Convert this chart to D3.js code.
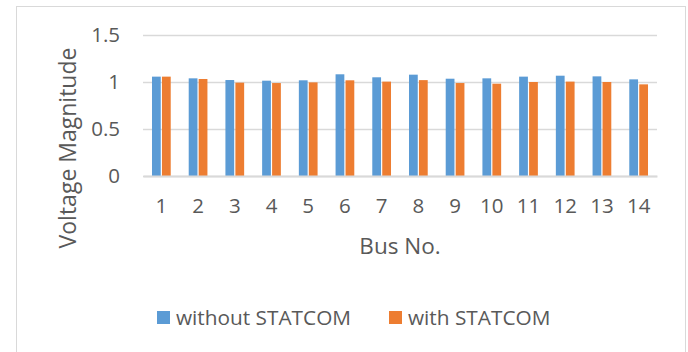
<!DOCTYPE html>
<html><head><meta charset="utf-8">
<script src="https://cdn.jsdelivr.net/npm/d3@7"></script>
<style>
html,body{margin:0;padding:0;background:#fff;}
svg{display:block;}
text{font-family:"Open Sans",sans-serif;fill:#595959;}
</style></head>
<body>
<svg id="chart" width="688" height="352"></svg>
<script>
const buses = ["1","2","3","4","5","6","7","8","9","10","11","12","13","14"];
const withoutStatcom = [1.057,1.039,1.021,1.014,1.018,1.082,1.050,1.078,1.035,1.039,1.057,1.067,1.060,1.028];
const withStatcom = [1.057,1.032,0.993,0.989,0.996,1.018,1.004,1.020,0.989,0.982,1.000,1.004,1.000,0.975];
const seriesNames = ["without STATCOM","with STATCOM"];
const seriesColors = ["#5B9BD5","#ED7D31"];
const yTicks = [0,0.5,1,1.5];

const svg = d3.select("#chart");
// chart frame
svg.append("rect").attr("x",16.5).attr("y",6.5).attr("width",669).attr("height",360)
  .attr("fill","#fff").attr("stroke","#d9d9d9").attr("stroke-width",1);

const plot = {left:143, right:657, top:35, bottom:176};
const x = d3.scaleBand().domain(buses).range([plot.left,plot.right]).paddingInner(0.49).paddingOuter(0.245);
const xs = d3.scaleBand().domain(seriesNames).range([0,x.bandwidth()]).paddingInner(0.12);
const y = d3.scaleLinear().domain([0,1.5]).range([plot.bottom,plot.top]);

// gridlines
const yAxis = d3.axisLeft(y).tickValues(yTicks).tickFormat(d3.format("")).tickSize(-(plot.right-plot.left)).tickPadding(23);
const gy = svg.append("g").attr("transform",`translate(${plot.left},0)`).call(yAxis);
gy.select(".domain").remove();
gy.selectAll(".tick line").attr("stroke","#d9d9d9").attr("stroke-width",1.3);
gy.selectAll(".tick text").style("font-size","20.5px").attr("fill","#595959");

// bars
const data = buses.map((b,i)=>({bus:b, vals:[withoutStatcom[i],withStatcom[i]]}));
const groups = svg.append("g").selectAll("g").data(data).join("g")
  .attr("transform",d=>`translate(${x(d.bus)},0)`);
groups.selectAll("rect").data(d=>d.vals.map((v,k)=>({v,k}))).join("rect")
  .attr("x",d=>xs(seriesNames[d.k]))
  .attr("width",xs.bandwidth())
  .attr("y",d=>y(d.v))
  .attr("height",d=>y(0)-y(d.v))
  .attr("fill",d=>seriesColors[d.k]);

// x axis
const xAxis = d3.axisBottom(x).tickSize(0).tickPadding(22);
const gx = svg.append("g").attr("transform",`translate(0,${plot.bottom})`).call(xAxis);
gx.select(".domain").attr("stroke","#d9d9d9").attr("stroke-width",2);
gx.selectAll(".tick text").style("font-size","20.5px").attr("fill","#595959");

// axis titles
svg.append("text").attr("x",(plot.left+plot.right)/2).attr("y",254)
  .attr("text-anchor","middle").style("font-size","22.5px").text("Bus No.");
svg.append("text").attr("transform",`translate(76,148) rotate(-90)`)
  .attr("text-anchor","middle").style("font-size","23px").text("Voltage Magnitude");

// legend
const legendX = [157,389];
const lg = svg.append("g").selectAll("g").data(seriesNames).join("g")
  .attr("transform",(d,i)=>`translate(${legendX[i]},311)`);
lg.append("rect").attr("width",13).attr("height",13).attr("fill",(d,i)=>seriesColors[i]);
lg.append("text").attr("x",19).attr("y",14).style("font-size","20.8px").text(d=>d);
</script>
</body></html>
